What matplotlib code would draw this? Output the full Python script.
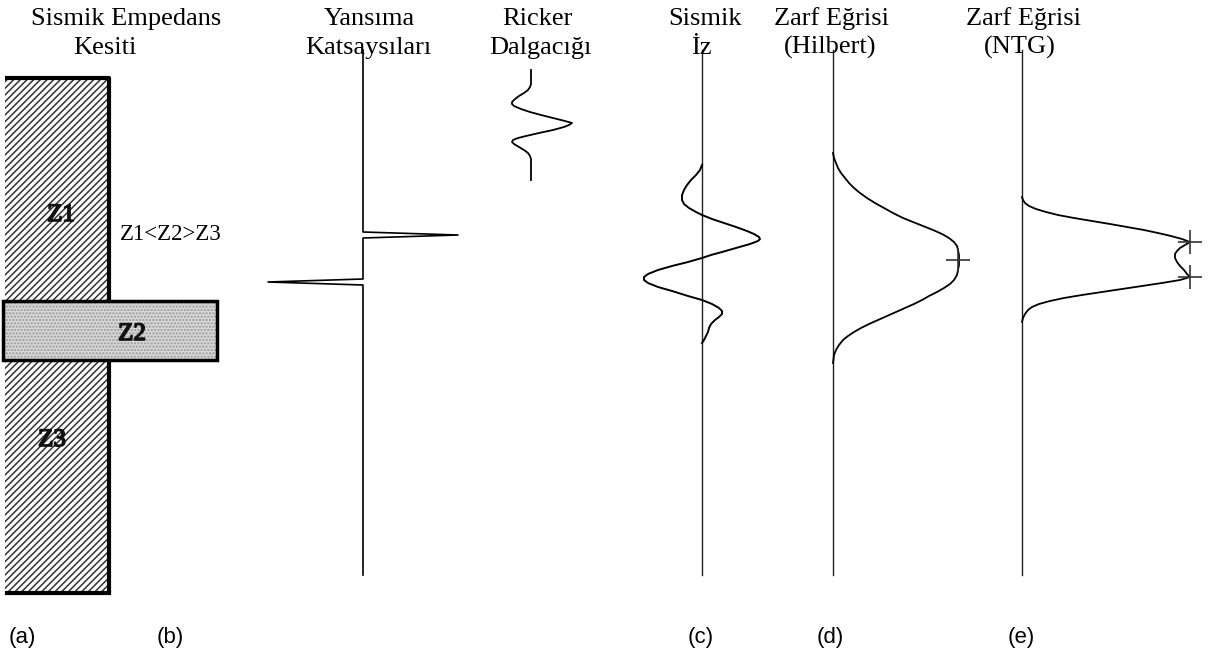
import matplotlib
matplotlib.use("Agg")
import matplotlib.pyplot as plt
from matplotlib.patches import Rectangle
import matplotlib.patheffects as pe

plt.rcParams['hatch.linewidth'] = 1.1

# ---------------- data (schematic units: depth/time downward, amplitude sideways) ----------------
panel_titles = [["Sismik Empedans", "Kesiti"], ["Yansıma", "Katsaysıları"], ["Ricker", "Dalgacığı"],
                ["Sismik", "İz"], ["Zarf Eğrisi", "(Hilbert)"], ["Zarf Eğrisi", "(NTG)"]]
panel_letters = ["(a)", "(b)", "(c)", "(d)", "(e)"]

# impedance layers: name, top, bottom
layer_names = ["Z1", "Z2", "Z3"]
layer_tops = [78, 301, 360]
layer_bottoms = [301, 360, 593]
impedance_rule = "Z1<Z2>Z3"

# reflection coefficients (depth, value)
refl_depth = [235, 282]
refl_value = [95, -95]

# Ricker wavelet samples
ricker_t = [70, 84, 87, 90, 93, 96, 99, 102, 104, 106, 109, 112, 115, 118, 121, 123, 125, 127, 130,
            133, 136, 138, 140, 142, 144, 147, 150, 153, 156, 159, 180]
ricker_a = [0, 0, -1, -3, -7, -12, -16, -19, -19, -17, -10, -1, 10, 22, 34, 41, 38, 33, 22,
            8, -5, -13, -18, -19, -17, -12, -7, -3, -1, 0, 0]

# synthetic seismic trace
trace_t = [165, 170, 175, 180, 185, 190, 195, 200, 204, 208, 212, 215, 219, 223, 227, 231, 234, 237,
           239, 241, 244, 248, 252, 255, 258, 262, 266, 270, 274, 277, 280, 283, 287, 291, 296, 300,
           304, 308, 311, 314, 317, 320, 324, 328, 332, 336, 340, 343]
trace_a = [0, -2, -6, -11, -15, -18, -20, -20, -18, -13, -6, 0, 10, 22, 34, 45, 52, 57,
           58, 56, 48, 34, 20, 9, 0, -14, -30, -44, -54, -58, -58, -54, -44, -30, -14, 0,
           10, 17, 20, 20, 17, 13, 9, 7, 6, 4, 2, 0]

# Hilbert envelope
hilb_t = [153, 158, 163, 168, 173, 178, 183, 188, 193, 198, 203, 208, 213, 218, 222, 226, 230, 234,
          238, 242, 246, 250, 255, 260, 265, 270, 275, 280, 284, 288, 292, 296, 300, 304, 308, 312,
          316, 320, 324, 328, 332, 336, 340, 345, 350, 355, 363]
hilb_a = [0, 1, 3, 5, 8, 12, 16, 21, 27, 34, 42, 51, 60, 70, 80, 90, 100, 109,
          116, 121, 124, 125, 126, 126, 126, 125, 124, 121, 117, 111, 104, 96, 89, 81, 72, 63,
          54, 45, 36, 28, 21, 15, 10, 6, 3, 1, 0]
hilb_peak_t = [260]
hilb_peak_a = [125]

# NTG envelope
ntg_t = [197, 200, 203, 206, 209, 212, 215, 218, 221, 224, 227, 230, 233, 236, 239, 242, 245, 248,
         251, 254, 258, 262, 266, 270, 274, 277, 280, 283, 286, 289, 292, 295, 298, 301, 304, 307,
         310, 314, 318, 322]
ntg_a = [0, 1, 3, 7, 14, 24, 36, 52, 70, 88, 105, 122, 136, 149, 160, 168, 163, 158,
         155, 153, 153, 155, 158, 162, 165, 168, 158, 140, 120, 100, 80, 60, 42, 28, 17, 10,
         6, 3, 1, 0]
ntg_peak_t = [242, 277]
ntg_peak_a = [168, 168]

# ---------------- figure ----------------
fig = plt.figure(figsize=(12.08, 6.57), dpi=100)
ax = fig.add_axes([0, 0, 1, 1])
ax.set_xlim(0, 1208)
ax.set_ylim(657, 0)
ax.axis('off')

serif = ['Liberation Serif', 'DejaVu Serif']
tfs = 19

# titles
title_x = [[126, 105], [369, 368], [537, 540], [705, 701], [832, 830], [1023, 1020]]
for lines, xs in zip(panel_titles, title_x):
    ax.text(xs[0], 25, lines[0], ha='center', va='baseline', fontsize=tfs, family=serif)
    ax.text(xs[1], 54, lines[1], ha='center', va='baseline', fontsize=tfs, family=serif)

# panel (a): impedance column
col_left, col_right, z2_right = 5, 109, 217
ax.add_patch(Rectangle((col_left, layer_tops[0]), col_right - col_left, layer_bottoms[2] - layer_tops[0],
                       facecolor='white', edgecolor='#333333', hatch='/////', linewidth=0, zorder=1))
ax.plot([col_left, col_right, col_right], [layer_tops[0], layer_tops[0], layer_bottoms[2]],
        color='black', lw=3, solid_capstyle='butt', zorder=3)
ax.plot([col_left + 2, col_right], [layer_bottoms[2], layer_bottoms[2]], color='black', lw=3, zorder=3)
ax.add_patch(Rectangle((3, layer_tops[1]), z2_right - 3, layer_bottoms[1] - layer_tops[1],
                       facecolor='#d9d9d9', edgecolor='#999999', hatch='.....', linewidth=0, zorder=4))
ax.add_patch(Rectangle((3, layer_tops[1]), z2_right - 3, layer_bottoms[1] - layer_tops[1],
                       facecolor='none', edgecolor='black', linewidth=2.5, zorder=5))
zl_pos = [(61, 215), (132, 334), (52, 440)]
for name, (x, y) in zip(layer_names, zl_pos):
    ax.text(x, y, name, ha='center', va='center', fontsize=18, family=serif, fontweight='normal',
            fontstyle='normal', color='#111111', zorder=6,
            path_effects=[pe.withStroke(linewidth=1.2, foreground='#111111')])
ax.text(171, 234, impedance_rule, ha='center', va='center', fontsize=16.5, family=serif)

# panel (b): reflection coefficients
bx = 363
xs, ys = [bx], [50]
for d, v in zip(refl_depth, refl_value):
    xs += [bx, bx + v, bx]
    ys += [d - 3, d, d + 3]
xs.append(bx); ys.append(575)
ax.plot(xs, ys, color='black', lw=1.2)

# Ricker wavelet
rx = 531
ax.plot([rx + a for a in ricker_a], ricker_t, color='black', lw=1.3)

# panel (c): trace
cx = 702
ax.plot([cx, cx], [50, 575], color='#222222', lw=1.0)
ax.plot([cx + a for a in trace_a], trace_t, color='black', lw=1.4)

# panel (d): Hilbert envelope
dx = 833
ax.plot([dx, dx], [50, 575], color='#222222', lw=1.0)
ax.plot([dx + a for a in hilb_a], hilb_t, color='black', lw=1.3)
ax.plot([dx + a for a in hilb_peak_a], hilb_peak_t, linestyle='none', marker='+', ms=17,
        mew=1.2, color='#333333')

# panel (e): NTG envelope
ex = 1022
ax.plot([ex, ex], [50, 575], color='#222222', lw=1.0)
ax.plot([ex + a for a in ntg_a], ntg_t, color='black', lw=1.3)
ax.plot([ex + a for a in ntg_peak_a], ntg_peak_t, linestyle='none', marker='+', ms=17,
        mew=1.2, color='#333333')

# letters
letter_x = [22, 170, 701, 830, 1021]
for lab, x in zip(panel_letters, letter_x):
    ax.text(x, 637, lab, ha='center', va='center', fontsize=16,
            family=['Liberation Sans', 'DejaVu Sans'])

fig.savefig('out.png', dpi=100)
